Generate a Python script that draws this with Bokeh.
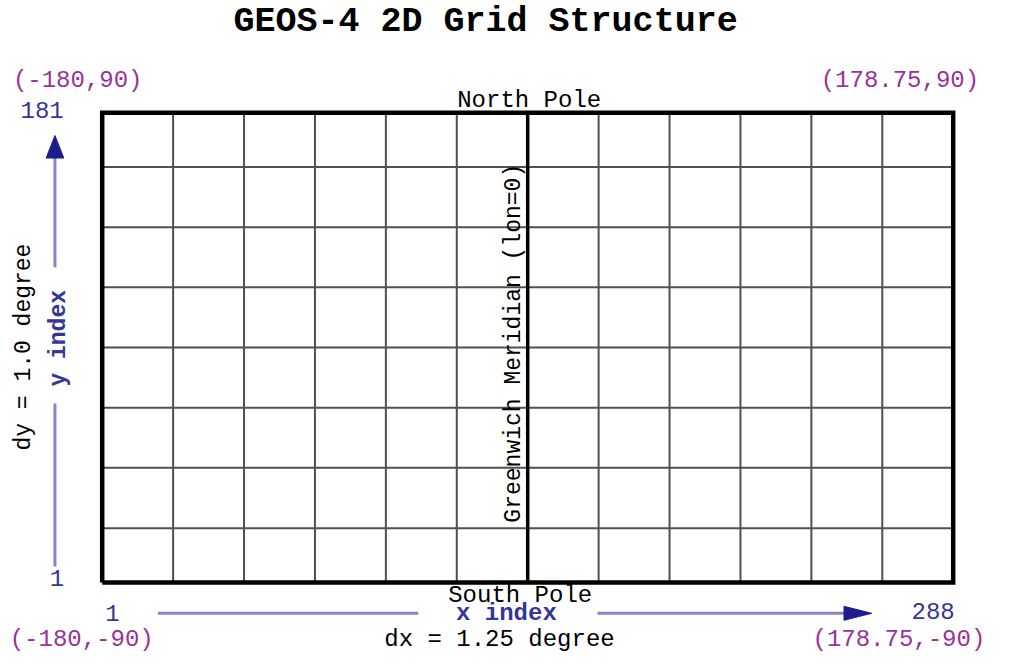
import math
from bokeh.plotting import figure
from bokeh.models import Range1d
from bokeh.core.properties import value
from bokeh.embed import file_html
from bokeh.resources import INLINE

# ---------------- data ----------------
title_text = "GEOS-4 2D Grid Structure"
lon_lines = [-180, -150, -120, -90, -60, -30, 0, 30, 60, 90, 120, 150, 180]
lat_lines = [-90, -69.2, -46.1, -23.1, 0, 23.1, 46.1, 69.2, 90]
lon_min, lon_max = -180, 180
lat_min, lat_max = -90, 90
meridian_lon = 0
corner_labels = ["(-180,90)", "(178.75,90)", "(-180,-90)", "(178.75,-90)"]
x_index_labels = ["1", "288"]
y_index_labels = ["1", "181"]
x_axis_name = "x index"
y_axis_name = "y index"
dx_label = "dx = 1.25 degree"
dy_label = "dy = 1.0 degree"
pole_labels = ["North Pole", "South Pole"]
meridian_label = "Greenwich Meridian (lon=0)"

# ---------------- layout / style ----------------
W, H = 994, 652
GL, GR, GT, GB = 101.7, 952.7, 112.3, 581.9   # grid frame position in canvas pixels
kx = (GR - GL) / (lon_max - lon_min)
ky = (GB - GT) / (lat_max - lat_min)
x_start = lon_min - GL / kx
y_end = lat_max + GT / ky

FONT = "Liberation Mono"
PURPLE = "#993399"
BLUE = "#363699"
LAVENDER = "#8585c8"
NAVY = "#1c1c8c"
GRID = "#505050"
LBL = "24px"
ROT = "23px"


def at(lon, lat, dx=0.0, dy=0.0):
    """data anchor + screen pixel offset (dy positive = down)"""
    return lon + dx / kx, lat - dy / ky


p = figure(width=W, height=H, output_backend="svg", toolbar_location=None,
           x_range=Range1d(x_start, x_start + W / kx),
           y_range=Range1d(y_end - H / ky, y_end),
           x_axis_location=None, y_axis_location=None, min_border=0)
p.grid.visible = False
p.outline_line_color = None
p.background_fill_color = "white"
p.border_fill_color = "white"

# interior grid lines
inner_lon = [v for v in lon_lines if v not in (lon_min, lon_max, meridian_lon)]
inner_lat = [v for v in lat_lines if v not in (lat_min, lat_max)]
p.segment(x0=inner_lon, y0=[lat_min] * len(inner_lon), x1=inner_lon, y1=[lat_max] * len(inner_lon),
          line_color=GRID, line_width=2)
p.segment(x0=[lon_min] * len(inner_lat), y0=inner_lat, x1=[lon_max] * len(inner_lat), y1=inner_lat,
          line_color=GRID, line_width=2)
# meridian
p.segment(x0=[meridian_lon], y0=[lat_min], x1=[meridian_lon], y1=[lat_max],
          line_color="black", line_width=3.5)
# border
p.line(x=[lon_min, lon_max, lon_max, lon_min, lon_min],
       y=[lat_min, lat_min, lat_max, lat_max, lat_min],
       line_color="black", line_width=4.5, line_join="miter")


def label(text, lon, lat, dx, dy, size, color, bold=False, angle=0.0):
    x, y = at(lon, lat, dx, dy)
    p.text(x=[x], y=[y], text=[text], text_font=value(FONT), text_font_size=size,
           text_color=color, text_font_style="bold" if bold else "normal",
           text_align="center", text_baseline="middle", angle=angle)


# title
label(title_text, meridian_lon, lat_max, -42.1, -91.0, "35px", "black", bold=True)
# corner coordinates
label(corner_labels[0], lon_min, lat_max, -24.5, -32.8, LBL, PURPLE)
label(corner_labels[1], lon_max, lat_max, -53.3, -32.8, LBL, PURPLE)
label(corner_labels[2], lon_min, lat_min, -20.5, 57.2, LBL, PURPLE)
label(corner_labels[3], lon_max, lat_min, -54.3, 57.2, LBL, PURPLE)
# index numbers
label(y_index_labels[1], lon_min, lat_max, -60.1, -2.6, LBL, BLUE)
label(y_index_labels[0], lon_min, lat_min, -45.3, -4.2, LBL, BLUE)
label(x_index_labels[0], lon_min, lat_min, 10.2, 30.9, LBL, BLUE)
label(x_index_labels[1], lon_max, lat_min, -20.1, 28.9, LBL, BLUE)
# poles
label(pole_labels[0], meridian_lon, lat_max, 1.5, -12.0, LBL, "black")
label(pole_labels[1], meridian_lon, lat_min, -7.5, 13.0, LBL, "black")
# axis names
label(x_axis_name, meridian_lon, lat_min, -21.3, 31.5, LBL, BLUE, bold=True)
label(dx_label, meridian_lon, lat_min, -28.2, 57.2, LBL, "black")
label(y_axis_name, lon_min, 0, -43.3, -9.3, ROT, BLUE, bold=True, angle=math.pi / 2)
label(dy_label, lon_min, 0, -77.9, -0.5, ROT, "black", angle=math.pi / 2)
label(meridian_label, meridian_lon, 0, -13.4, -4.4, ROT, "black", angle=math.pi / 2)

# vertical (y index) arrow
vx = -47.25
a0 = at(lon_min, lat_max, vx, 45.0)
a1 = at(lon_min, lat_max, vx, 154.4)
b0 = at(lon_min, lat_min, vx, -178.8)
b1 = at(lon_min, lat_min, vx, -15.9)
p.segment(x0=[a0[0], b0[0]], y0=[a0[1], b0[1]], x1=[a1[0], b1[0]], y1=[a1[1], b1[1]],
          line_color=LAVENDER, line_width=3)
tip = at(lon_min, lat_max, vx, 22.7)
bl = at(lon_min, lat_max, vx - 8.8, 45.2)
br = at(lon_min, lat_max, vx + 8.8, 45.2)
p.patch(x=[tip[0], bl[0], br[0]], y=[tip[1], bl[1], br[1]], fill_color=NAVY, line_color=NAVY)

# horizontal (x index) arrow
hy = 30.9
c0 = at(lon_min, lat_min, 55.7, hy)
c1 = at(meridian_lon, lat_min, -109.4, hy)
d0 = at(meridian_lon, lat_min, 69.8, hy)
d1 = at(lon_max, lat_min, -109.2, hy)
p.segment(x0=[c0[0], d0[0]], y0=[c0[1], d0[1]], x1=[c1[0], d1[0]], y1=[c1[1], d1[1]],
          line_color=LAVENDER, line_width=3)
htip = at(lon_max, lat_min, -81.5, hy)
hb1 = at(lon_max, lat_min, -109.2, hy - 7)
hb2 = at(lon_max, lat_min, -109.2, hy + 7)
p.patch(x=[htip[0], hb1[0], hb2[0]], y=[htip[1], hb1[1], hb2[1]], fill_color=NAVY, line_color=NAVY)

open("out.html", "w").write(file_html(p, INLINE))
